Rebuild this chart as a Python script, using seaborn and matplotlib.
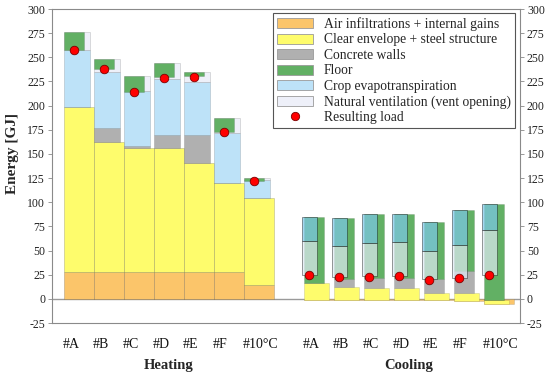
import numpy as np
import pandas as pd
import matplotlib
matplotlib.use("Agg")
import matplotlib.pyplot as plt
from matplotlib.patches import Patch
from matplotlib.lines import Line2D
import seaborn as sns

# ---------------- data ----------------
cases = ['#A', '#B', '#C', '#D', '#E', '#F', '#10°C']
groups = ['Heating', 'Cooling']

# Heating components [GJ] (signed contributions, waterfall order)
heat_air = [28, 28, 28, 28, 28, 28, 14.4]
heat_env = [170.5, 134.7, 128.5, 127.8, 112.4, 91.7, 89.5]
heat_concrete = [0, 13.8, 1.7, 14.2, 28.8, 0.5, 0]
heat_crop = [59.5, 58.5, 56.8, 57.7, 55.6, 51.8, 18.6]
heat_vent = [17.8, 13.4, 15.4, 16.5, 10.5, 14.8, 2.1]
heat_floor = [-17.8, -10.4, -15.9, -15.0, -5.1, -14.0, -3.1]
heat_load = [258, 238, 214, 229, 230, 172.5, 121.5]

# Cooling components [GJ]
cool_air = [-1, -1, -1, -1, -1.5, -2.5, -5.2]
cool_env = [17.2, 13.0, 12.7, 12.0, 7.4, 8.7, 4.5]
cool_concrete = [0, 8.6, 10.0, 10.4, 15.1, 23.0, 0]
cool_floor = [68.8, 62.7, 66.0, 66.3, 58.1, 62.6, 98.7]
cool_crop = [-24.8, -28.3, -30.2, -29.2, -29.9, -35.8, -26.5]
cool_vent = [-35.2, -32.0, -34.1, -35.1, -28.6, -34.0, -46.5]
cool_load = [25, 22.4, 23, 23.4, 20, 21.7, 24.5]

labels = ['Air infiltrations + internal gains', 'Clear envelope + steel structure',
          'Concrete walls', 'Floor', 'Crop evapotranspiration',
          'Natural ventilation (vent opening)', 'Resulting load']

# ---------------- style ----------------
C_AIR = '#FBC56A'
C_ENV = '#FEFC6C'
C_CON = '#B0B0B0'
C_FLO = '#62B064'
C_CRO = '#BDE2F8'
C_VEN = '#EEF0F9'
C_CRO_C = '#7CC8EA'
C_VEN_C = '#DFEAF5'
EDGE = (0, 0, 0, 0.18)

sns.set_theme(style='ticks')
plt.rcParams['font.family'] = ['Liberation Serif', 'DejaVu Serif']
plt.rcParams['axes.unicode_minus'] = False

W, H = 550, 376
fig = plt.figure(figsize=(W / 100, H / 100), dpi=100)
ax = fig.add_axes([52 / W, (H - 323) / H, 468 / W, 314 / H])

n = len(cases)
hx = np.arange(n, dtype=float)          # heating slot left edges
cx = np.arange(n, dtype=float) + n + 1  # cooling slot left edges

def arr(v):
    return np.asarray(v, dtype=float)

# ---- heating waterfall ----
b = np.zeros(n)
ax.bar(hx, arr(heat_air), bottom=b, width=1.0, align='edge', color=C_AIR, edgecolor=EDGE, lw=0.6, zorder=2)
b = b + arr(heat_air)
ax.bar(hx, arr(heat_env), bottom=b, width=1.0, align='edge', color=C_ENV, edgecolor=EDGE, lw=0.6, zorder=2)
b = b + arr(heat_env)
ax.bar(hx, arr(heat_concrete), bottom=b, width=0.85, align='edge', color=C_CON, edgecolor=EDGE, lw=0.5, zorder=2)
b = b + arr(heat_concrete)
ax.bar(hx, arr(heat_crop), bottom=b, width=0.85, align='edge', color=C_CRO, edgecolor=EDGE, lw=0.5, zorder=2)
b = b + arr(heat_crop)
ax.bar(hx, arr(heat_vent), bottom=b, width=0.87, align='edge', color=C_VEN, edgecolor=EDGE, lw=0.5, zorder=2)
b = b + arr(heat_vent)
ax.bar(hx, arr(heat_floor), bottom=b, width=0.67, align='edge', color=C_FLO, edgecolor=EDGE, lw=0.4, zorder=3)

# ---- cooling waterfall ----
b = np.zeros(n)
ax.bar(cx, arr(cool_air), bottom=b, width=1.0, align='edge', color=C_AIR, edgecolor=EDGE, lw=0.4, zorder=2)
b = b + arr(cool_air)
ax.bar(cx, arr(cool_env), bottom=b, width=0.83, align='edge', color=C_ENV, edgecolor=EDGE, lw=0.4, zorder=2)
b = b + arr(cool_env)
ax.bar(cx, arr(cool_concrete), bottom=b, width=0.67, align='edge', color=C_CON, edgecolor=EDGE, lw=0.4, zorder=2)
b = b + arr(cool_concrete)
ax.bar(cx, arr(cool_floor), bottom=b, width=0.67, align='edge', color=C_FLO, edgecolor=EDGE, lw=0.4, zorder=2)
b = b + arr(cool_floor)
ax.bar(cx - 0.08, arr(cool_crop), bottom=b, width=0.5, align='edge', color=C_CRO_C, alpha=0.7,
       edgecolor=EDGE, lw=0.4, zorder=3)
b = b + arr(cool_crop)
ax.bar(cx - 0.08, arr(cool_vent), bottom=b, width=0.5, align='edge', color=C_VEN_C, alpha=0.7,
       edgecolor=EDGE, lw=0.4, zorder=3)

# ---- resulting load ----
df = pd.DataFrame({
    'x': np.concatenate([hx + 0.335, cx + 0.17]),
    'load': heat_load + cool_load,
})
sns.scatterplot(data=df, x='x', y='load', ax=ax, color='red', edgecolor='#7a0000',
                linewidth=0.6, s=38, zorder=5, legend=False)

# ---- axes ----
ax.axhline(0, color='#9a9a9a', lw=1.0, zorder=1)
ax.set_xlim(-0.4, 2 * n + 1 + 0.2)
ax.set_ylim(-25, 300)
ax.set_yticks(np.arange(-25, 301, 25))
ax.tick_params(axis='y', which='both', left=True, right=True, labelleft=True, labelright=True,
               direction='out', length=3, width=0.6, color='#888888', labelsize=8.5, pad=2,
               labelcolor='#222222')
ticks = list(hx - 0.05) + list(cx - 0.05)
ax.set_xticks(ticks)
ax.set_xticklabels(cases + cases, fontsize=10, color='#111111')
for t in ax.get_xticklabels():
    t.set_ha('left')
ax.tick_params(axis='x', length=0, pad=11)
ax.set_xlabel('')
ax.set_ylabel('Energy [GJ]', fontsize=11, fontweight='bold', labelpad=4)
ax.yaxis.set_label_coords(-0.07, 0.54)
for s in ax.spines.values():
    s.set_color('#8a8a8a')
    s.set_linewidth(0.8)
    s.set_visible(True)

# group titles
trans = ax.get_xaxis_transform()
ax.text(n / 2, -0.135, groups[0], transform=trans, ha='center', va='center',
        fontsize=10.5, fontweight='bold')
ax.text(n + 1 + n / 2, -0.135, groups[1], transform=trans, ha='center', va='center',
        fontsize=10.5, fontweight='bold')

# legend
handles = [Patch(facecolor=C_AIR, edgecolor='#999999', lw=0.6),
           Patch(facecolor=C_ENV, edgecolor='#999999', lw=0.6),
           Patch(facecolor=C_CON, edgecolor='#999999', lw=0.6),
           Patch(facecolor=C_FLO, edgecolor='#999999', lw=0.6),
           Patch(facecolor=C_CRO, edgecolor='#999999', lw=0.6),
           Patch(facecolor=C_VEN, edgecolor='#999999', lw=0.6),
           Line2D([], [], ls='none', marker='o', markersize=6, markerfacecolor='red',
                  markeredgecolor='#7a0000', markeredgewidth=0.6)]
leg = ax.legend(handles, labels, loc='upper right', bbox_to_anchor=(0.989, 0.987),
                fontsize=9.8, frameon=True, fancybox=False, framealpha=1,
                edgecolor='#555555', handlelength=2.6, handleheight=0.75,
                labelspacing=0.18, borderpad=0.3, handletextpad=0.8, borderaxespad=0)
leg.get_frame().set_linewidth(0.8)

fig.savefig('out.png', dpi=100)
